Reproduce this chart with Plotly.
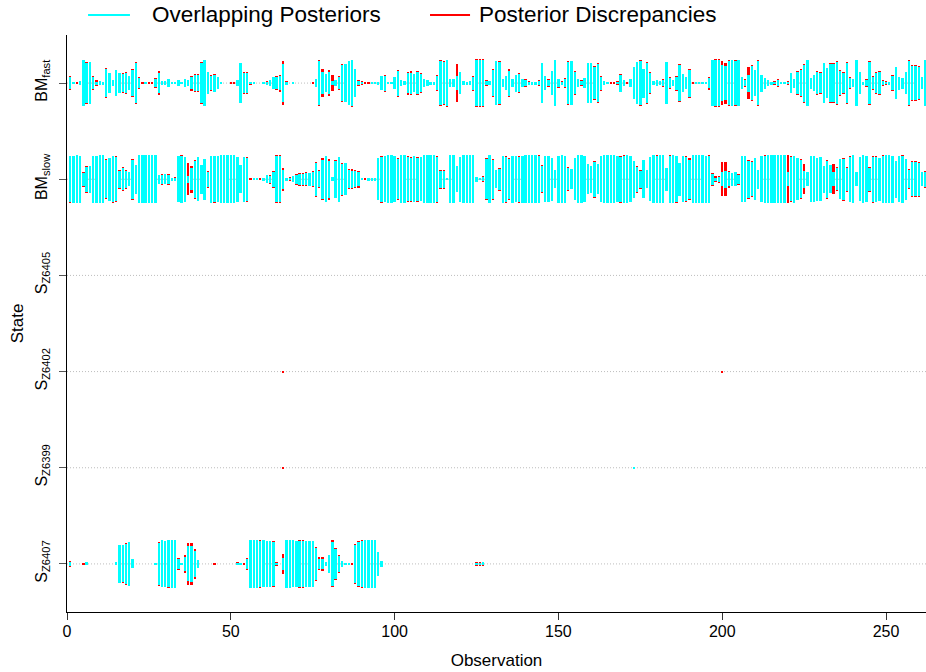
import plotly.graph_objects as go

N_OBS = 262
observations = list(range(1, N_OBS + 1))

# y-axis states, bottom to top
state_labels = ["S<sub>Z6407</sub>", "S<sub>Z6399</sub>", "S<sub>Z6402</sub>",
                "S<sub>Z6405</sub>", "BM<sub>slow</sub>", "BM<sub>fast</sub>"]
state_levels = [1, 2, 3, 4, 5, 6]

# posterior where both runs agree (overlap) and the extra mass of the larger one
bm_fast_overlap = [
    0.25, 0.02, 0.00, 0.10, 0.95, 0.84, 0.86, 0.26, 0.04, 0.08,
    0.06, 0.57, 0.43, 0.12, 0.53, 0.43, 0.38, 0.42, 0.28, 0.54,
    0.82, 0.21, 0.00, 0.02, 0.00, 0.00, 0.16, 0.40, 0.08, 0.08,
    0.15, 0.03, 0.03, 0.14, 0.03, 0.18, 0.12, 0.24, 0.32, 0.33,
    0.83, 0.94, 0.47, 0.30, 0.35, 0.26, 0.03, 0.00, 0.00, 0.00,
    0.00, 0.12, 0.82, 0.42, 0.40, 0.03, 0.02, 0.00, 0.00, 0.03,
    0.06, 0.14, 0.25, 0.24, 0.30, 0.78, 0.04, 0.00, 0.02, 0.00,
    0.00, 0.00, 0.00, 0.00, 0.00, 0.15, 0.93, 0.45, 0.38, 0.45,
    0.10, 0.12, 0.24, 0.75, 0.78, 0.93, 0.95, 0.58, 0.10, 0.05,
    0.00, 0.00, 0.02, 0.02, 0.06, 0.28, 0.31, 0.02, 0.02, 0.26,
    0.52, 0.14, 0.08, 0.42, 0.44, 0.37, 0.46, 0.38, 0.17, 0.12,
    0.04, 0.04, 0.28, 0.92, 0.88, 0.95, 0.16, 0.16, 0.30, 0.45,
    0.08, 0.04, 0.08, 0.27, 0.96, 0.96, 0.96, 0.08, 0.07, 0.54,
    0.92, 0.88, 0.18, 0.30, 0.52, 0.15, 0.35, 0.36, 0.18, 0.12,
    0.06, 0.06, 0.04, 0.08, 0.82, 0.29, 0.14, 0.50, 0.94, 0.15,
    0.06, 0.17, 0.88, 0.92, 0.45, 0.17, 0.10, 0.21, 0.82, 0.82,
    0.68, 0.78, 0.27, 0.10, 0.03, 0.00, 0.00, 0.03, 0.35, 0.12,
    0.00, 0.16, 0.68, 0.87, 0.92, 0.60, 0.82, 0.41, 0.07, 0.12,
    0.07, 0.14, 0.88, 0.20, 0.12, 0.27, 0.76, 0.37, 0.26, 0.56,
    0.00, 0.02, 0.02, 0.02, 0.03, 0.22, 0.97, 0.96, 0.96, 0.75,
    0.72, 0.93, 0.96, 0.93, 0.97, 0.26, 0.12, 0.35, 0.72, 0.53,
    0.91, 0.35, 0.23, 0.12, 0.06, 0.05, 0.11, 0.03, 0.02, 0.05,
    0.40, 0.19, 0.46, 0.55, 0.77, 0.97, 0.23, 0.33, 0.47, 0.41,
    0.82, 0.63, 0.79, 0.78, 0.88, 0.51, 0.41, 0.84, 0.22, 0.16,
    0.97, 0.45, 0.04, 0.13, 0.86, 0.24, 0.40, 0.46, 0.08, 0.05,
    0.06, 0.29, 0.68, 0.27, 0.23, 0.45, 0.92, 0.70, 0.70, 0.66,
    0.24, 0.97,
]
bm_fast_disc = [
    0.05, 0, 0.03, 0, 0, 0.04, 0, 0.04, 0.10, 0,
    0, 0.04, 0, 0, 0, 0, 0.05, 0.04, 0, 0.05,
    0.04, 0.04, 0.03, 0, 0.03, 0.03, 0.05, 0.10, 0, 0,
    0, 0, 0, 0, 0, 0, 0, 0.07, 0.05, 0.05,
    0.04, 0, 0, 0.04, 0.04, 0, 0, 0, 0, 0.02,
    0.02, 0, 0, 0.05, 0.06, 0.03, 0, 0, 0, 0,
    0.02, 0, 0, 0.05, 0.05, 0.12, 0.05, 0, 0, 0,
    0, 0, 0, 0, 0.02, 0, 0.04, 0.13, 0, 0.09,
    0.23, 0, 0.04, 0.04, 0, 0, 0.03, 0, 0.04, 0.05,
    0.02, 0.02, 0, 0.03, 0, 0, 0.04, 0, 0, 0,
    0.04, 0, 0, 0.06, 0.05, 0, 0.04, 0.04, 0, 0,
    0, 0, 0.05, 0.05, 0.04, 0.03, 0, 0, 0.50, 0,
    0, 0, 0, 0.04, 0.03, 0.03, 0.03, 0.06, 0, 0.04,
    0, 0.04, 0, 0, 0.06, 0, 0, 0.04, 0, 0.04,
    0.04, 0, 0, 0.04, 0, 0, 0.04, 0, 0, 0.04,
    0.04, 0.04, 0.04, 0, 0.06, 0, 0.04, 0, 0, 0,
    0.04, 0.04, 0.04, 0, 0, 0.03, 0.03, 0.04, 0.04, 0,
    0.03, 0, 0, 0, 0.04, 0, 0.04, 0.04, 0, 0,
    0, 0.04, 0, 0.04, 0, 0.04, 0.04, 0, 0, 0.04,
    0.03, 0, 0, 0, 0, 0.05, 0, 0.03, 0.03, 0.15,
    0.13, 0.03, 0, 0.03, 0, 0, 0.04, 0.33, 0.04, 0,
    0.04, 0, 0, 0, 0, 0.03, 0.04, 0, 0, 0.03,
    0, 0, 0.04, 0.04, 0.04, 0, 0, 0, 0.04, 0.04,
    0, 0, 0.04, 0.04, 0.04, 0.04, 0.04, 0.04, 0.04, 0,
    0, 0, 0, 0.04, 0.04, 0.04, 0.06, 0.04, 0.04, 0.03,
    0, 0.04, 0, 0, 0, 0, 0.04, 0.04, 0.04, 0.06,
    0, 0,
]

bm_slow_overlap = [
    0.95, 0.98, 1.00, 0.98, 0.28, 0.52, 0.56, 0.97, 0.98, 1.00,
    1.00, 0.80, 0.90, 0.95, 0.92, 0.36, 0.45, 0.36, 0.30, 0.82,
    0.60, 1.00, 1.00, 1.00, 1.00, 1.00, 1.00, 0.18, 0.19, 0.20,
    0.19, 0.04, 0.06, 0.96, 0.98, 0.94, 0.15, 0.45, 0.78, 0.92,
    0.60, 0.85, 0.31, 0.97, 0.95, 0.96, 1.00, 1.00, 1.00, 0.99,
    0.99, 0.93, 0.58, 0.93, 0.90, 0.00, 0.03, 0.02, 0.00, 0.06,
    0.17, 0.15, 0.31, 0.96, 0.96, 0.40, 0.06, 0.05, 0.13, 0.18,
    0.22, 0.22, 0.25, 0.27, 0.30, 0.68, 0.33, 0.82, 0.95, 0.78,
    0.08, 0.76, 0.93, 0.64, 0.66, 0.38, 0.36, 0.33, 0.30, 0.05,
    0.00, 0.04, 0.04, 0.06, 0.88, 0.94, 0.96, 1.00, 1.00, 0.96,
    0.84, 0.99, 1.00, 0.91, 0.89, 0.96, 0.90, 0.91, 0.99, 1.00,
    1.00, 0.99, 0.94, 0.36, 0.36, 0.02, 0.99, 0.99, 0.55, 0.93,
    1.00, 1.00, 1.00, 1.00, 0.10, 0.05, 0.08, 0.84, 0.99, 0.82,
    0.38, 0.43, 0.98, 0.94, 0.84, 0.98, 0.95, 0.93, 0.98, 0.99,
    1.00, 1.00, 1.00, 0.97, 0.55, 0.96, 0.96, 0.90, 0.38, 0.98,
    1.00, 0.98, 0.45, 0.41, 0.88, 0.99, 1.00, 0.96, 0.62, 0.56,
    0.73, 0.62, 0.96, 1.00, 1.00, 1.00, 1.00, 0.96, 0.94, 0.98,
    1.00, 0.96, 0.76, 0.53, 0.36, 0.80, 0.38, 0.92, 0.99, 0.98,
    1.00, 0.99, 0.47, 0.97, 1.00, 0.95, 0.68, 0.96, 0.91, 0.82,
    0.99, 1.00, 1.00, 1.00, 0.98, 0.97, 0.23, 0.07, 0.10, 0.30,
    0.35, 0.30, 0.27, 0.30, 0.18, 0.96, 0.95, 0.76, 0.70, 0.87,
    0.40, 0.95, 0.97, 1.00, 1.00, 0.99, 1.00, 1.00, 1.00, 0.30,
    0.91, 0.97, 0.88, 0.80, 0.35, 0.29, 0.96, 0.96, 0.89, 0.92,
    0.57, 0.77, 0.58, 0.30, 0.45, 0.84, 0.86, 0.48, 0.93, 0.99,
    0.30, 0.91, 1.00, 0.96, 0.47, 0.94, 0.93, 0.89, 0.98, 1.00,
    1.00, 0.97, 0.77, 0.96, 0.97, 0.86, 0.38, 0.70, 0.70, 0.68,
    0.30, 0.31,
]
bm_slow_disc = [
    0.03, 0, 0, 0, 0.04, 0.04, 0, 0, 0, 0,
    0, 0.04, 0, 0.03, 0.04, 0.04, 0.04, 0.04, 0, 0.04,
    0, 0, 0, 0, 0, 0, 0, 0, 0.03, 0,
    0.04, 0, 0.03, 0, 0.02, 0, 0.51, 0.12, 0.04, 0,
    0, 0, 0.04, 0, 0.03, 0, 0, 0, 0, 0,
    0, 0, 0, 0, 0.04, 0.03, 0, 0, 0.03, 0,
    0, 0.04, 0.04, 0.03, 0.03, 0.08, 0, 0.03, 0, 0.04,
    0.04, 0.04, 0.04, 0, 0.04, 0.04, 0.04, 0.06, 0, 0.08,
    0, 0.04, 0, 0.04, 0, 0.04, 0.05, 0.04, 0.06, 0,
    0.03, 0, 0, 0, 0, 0.03, 0, 0, 0, 0,
    0.04, 0, 0, 0.04, 0.04, 0, 0.04, 0, 0, 0,
    0, 0, 0.03, 0.04, 0.04, 0, 0, 0, 0, 0,
    0, 0, 0, 0, 0, 0, 0.04, 0.04, 0, 0.04,
    0, 0.05, 0, 0.03, 0.04, 0, 0, 0.04, 0, 0,
    0, 0, 0, 0.03, 0.04, 0, 0, 0, 0, 0,
    0, 0, 0.04, 0, 0, 0, 0, 0, 0, 0,
    0.04, 0, 0, 0, 0, 0, 0, 0, 0.04, 0.02,
    0, 0, 0, 0.04, 0.04, 0, 0, 0, 0, 0.02,
    0, 0, 0, 0.03, 0, 0.03, 0, 0, 0.04, 0.05,
    0, 0, 0, 0, 0, 0.03, 0.04, 0.05, 0.05, 0.40,
    0.35, 0.05, 0, 0, 0.04, 0, 0, 0.06, 0.04, 0,
    0, 0, 0.03, 0, 0, 0, 0, 0, 0, 0.69,
    0.04, 0, 0, 0.04, 0.28, 0, 0, 0, 0, 0,
    0, 0.04, 0, 0.33, 0.04, 0, 0.04, 0.04, 0.03, 0,
    0, 0, 0, 0, 0.04, 0.04, 0.03, 0, 0.02, 0,
    0, 0, 0, 0, 0.03, 0, 0.04, 0.05, 0.05, 0.04,
    0, 0.04,
]

s_z6407_overlap = [
    0.08, 0.00, 0.00, 0.00, 0.00, 0.06, 0.00, 0.00, 0.00, 0.00,
    0.00, 0.00, 0.00, 0.00, 0.06, 0.79, 0.77, 0.84, 0.90, 0.19,
    0.00, 0.00, 0.00, 0.00, 0.00, 0.00, 0.02, 0.86, 0.98, 0.97,
    0.98, 1.00, 1.00, 0.22, 0.02, 0.30, 0.73, 0.75, 0.55, 0.18,
    0.00, 0.00, 0.00, 0.00, 0.00, 0.00, 0.00, 0.00, 0.00, 0.00,
    0.00, 0.04, 0.03, 0.00, 0.20, 1.00, 1.00, 1.00, 0.97, 0.98,
    0.97, 0.97, 0.90, 0.04, 0.00, 0.25, 1.00, 1.00, 0.98, 0.97,
    0.96, 0.96, 0.96, 0.94, 0.94, 0.68, 0.20, 0.22, 0.08, 0.36,
    0.93, 0.62, 0.33, 0.14, 0.03, 0.02, 0.00, 0.78, 0.92, 0.97,
    1.00, 1.00, 1.00, 1.00, 0.50, 0.13, 0.00, 0.00, 0.00, 0.00,
    0.00, 0.00, 0.00, 0.00, 0.00, 0.00, 0.00, 0.00, 0.00, 0.00,
    0.00, 0.00, 0.00, 0.00, 0.00, 0.00, 0.00, 0.00, 0.00, 0.00,
    0.00, 0.00, 0.00, 0.00, 0.05, 0.05, 0.06, 0.00, 0.00, 0.00,
    0.00, 0.00, 0.00, 0.00, 0.00, 0.00, 0.00, 0.00, 0.00, 0.00,
    0.00, 0.00, 0.00, 0.00, 0.00, 0.00, 0.00, 0.00, 0.00, 0.00,
    0.00, 0.00, 0.00, 0.00, 0.00, 0.00, 0.00, 0.00, 0.00, 0.00,
    0.00, 0.00, 0.00, 0.00, 0.00, 0.00, 0.00, 0.00, 0.00, 0.00,
    0.00, 0.00, 0.00, 0.00, 0.00, 0.00, 0.00, 0.00, 0.00, 0.00,
    0.00, 0.00, 0.00, 0.00, 0.00, 0.00, 0.00, 0.00, 0.00, 0.00,
    0.00, 0.00, 0.00, 0.00, 0.00, 0.00, 0.00, 0.00, 0.00, 0.00,
    0.00, 0.00, 0.00, 0.00, 0.00, 0.00, 0.00, 0.00, 0.00, 0.00,
    0.00, 0.00, 0.00, 0.00, 0.00, 0.00, 0.00, 0.00, 0.00, 0.00,
    0.00, 0.00, 0.00, 0.00, 0.00, 0.00, 0.00, 0.00, 0.00, 0.00,
    0.00, 0.00, 0.00, 0.00, 0.00, 0.00, 0.00, 0.00, 0.00, 0.00,
    0.00, 0.00, 0.00, 0.00, 0.00, 0.00, 0.00, 0.00, 0.00, 0.00,
    0.00, 0.00, 0.00, 0.00, 0.00, 0.00, 0.00, 0.00, 0.00, 0.00,
    0.00, 0.00,
]
s_z6407_disc = [
    0.03, 0, 0, 0, 0.02, 0, 0, 0, 0, 0,
    0, 0, 0, 0, 0, 0, 0.03, 0.05, 0, 0,
    0, 0, 0, 0, 0, 0, 0.03, 0.05, 0, 0,
    0.02, 0, 0, 0.04, 0, 0.06, 0.13, 0.13, 0.06, 0,
    0, 0, 0, 0, 0.02, 0, 0, 0, 0, 0,
    0, 0.02, 0, 0.02, 0.04, 0, 0, 0, 0.03, 0,
    0, 0, 0.04, 0.04, 0, 0.15, 0, 0, 0, 0,
    0.03, 0.03, 0, 0.03, 0.03, 0.04, 0.07, 0.06, 0, 0,
    0.05, 0.06, 0.04, 0, 0, 0, 0.04, 0.05, 0.04, 0.03,
    0, 0, 0, 0, 0, 0, 0, 0, 0, 0,
    0, 0, 0, 0, 0, 0, 0, 0, 0, 0,
    0, 0, 0, 0, 0, 0, 0, 0, 0, 0,
    0, 0, 0, 0, 0.02, 0.03, 0.03, 0, 0, 0,
    0, 0, 0, 0, 0, 0, 0, 0, 0, 0,
    0, 0, 0, 0, 0, 0, 0, 0, 0, 0,
    0, 0, 0, 0, 0, 0, 0, 0, 0, 0,
    0, 0, 0, 0, 0, 0, 0, 0, 0, 0,
    0, 0, 0, 0, 0, 0, 0, 0, 0, 0,
    0, 0, 0, 0, 0, 0, 0, 0, 0, 0,
    0, 0, 0, 0, 0, 0, 0, 0, 0, 0,
    0, 0, 0, 0, 0, 0, 0, 0, 0, 0,
    0, 0, 0, 0, 0, 0, 0, 0, 0, 0,
    0, 0, 0, 0, 0, 0, 0, 0, 0, 0,
    0, 0, 0, 0, 0, 0, 0, 0, 0, 0,
    0, 0, 0, 0, 0, 0, 0, 0, 0, 0,
    0, 0, 0, 0, 0, 0, 0, 0, 0, 0,
    0, 0,
]

# the remaining states carry almost no mass: observation -> (overlap, discrepancy)
s_z6405_marks = {}
s_z6402_marks = {66: (0.0, 0.03), 200: (0.0, 0.03)}
s_z6399_marks = {66: (0.0, 0.03), 173: (0.02, 0.0)}


def from_marks(marks):
    overlap = [marks.get(o, (0.0, 0.0))[0] for o in observations]
    disc = [marks.get(o, (0.0, 0.0))[1] for o in observations]
    return overlap, disc


rows = [
    (1, s_z6407_overlap, s_z6407_disc),
    (2, *from_marks(s_z6399_marks)),
    (3, *from_marks(s_z6402_marks)),
    (4, *from_marks(s_z6405_marks)),
    (5, bm_slow_overlap, bm_slow_disc),
    (6, bm_fast_overlap, bm_fast_disc),
]

HALF_SPAN = 0.25  # half bar length, in state units, for a posterior of 1
BAR_WIDTH = 0.72  # in observations


def centred_bars(level, values):
    """Bars of length 2*HALF_SPAN*v centred on a state's level."""
    xs, heights, bases = [], [], []
    for obs, v in zip(observations, values):
        if v <= 0:
            continue
        xs.append(obs)
        heights.append(2 * HALF_SPAN * v)
        bases.append(level - HALF_SPAN * v)
    return xs, heights, bases


cyan_x, cyan_h, cyan_b = [], [], []
red_x, red_h, red_b = [], [], []
for level, overlap, disc in rows:
    total = [o + d if d > 0 else 0.0 for o, d in zip(overlap, disc)]
    x, h, b = centred_bars(level, total)
    red_x += x; red_h += h; red_b += b
    x, h, b = centred_bars(level, overlap)
    cyan_x += x; cyan_h += h; cyan_b += b

CYAN = "#00ffff"
RED = "#ff0000"

fig = go.Figure()
fig.add_trace(go.Bar(
    x=red_x, y=red_h, base=red_b, width=BAR_WIDTH, name="Posterior Discrepancies",
    marker=dict(color=RED, line=dict(width=0)), showlegend=False, hoverinfo="skip",
))
fig.add_trace(go.Bar(
    x=cyan_x, y=cyan_h, base=cyan_b, width=BAR_WIDTH, name="Overlapping Posteriors",
    marker=dict(color=CYAN, line=dict(width=0)), showlegend=False, hoverinfo="skip",
))

# dotted reference line through every state
for level in state_levels:
    fig.add_shape(type="line", xref="paper", x0=0, x1=1, yref="y", y0=level, y1=level,
                  line=dict(color="#bdbdbd", width=1, dash="1px,2px"), layer="below")

FONT = "Liberation Sans, Arial, Helvetica, sans-serif"

# legend: line samples and labels above the plotting region
legend_items = [("Overlapping Posteriors", CYAN, 0.0245, 0.0733, 0.0966),
                ("Posterior Discrepancies", RED, 0.4226, 0.4692, 0.4773)]
LEGEND_Y = 1.0347
for label, color, lx0, lx1, tx in legend_items:
    fig.add_shape(type="line", xref="paper", yref="paper", x0=lx0, x1=lx1,
                  y0=LEGEND_Y, y1=LEGEND_Y, line=dict(color=color, width=2))
    fig.add_annotation(text=label, xref="paper", yref="paper", x=tx, y=LEGEND_Y,
                       xanchor="left", yanchor="middle", showarrow=False,
                       font=dict(size=22.5, family=FONT, color="black"))

fig.update_layout(
    width=926, height=672,
    margin=dict(l=67, r=0, t=35, b=60, autoexpand=False),
    plot_bgcolor="white", paper_bgcolor="white",
    font=dict(family=FONT, size=16, color="black"),
    barmode="overlay", bargap=0,
    showlegend=False,
)
fig.update_xaxes(
    range=[0, 262.2], showline=True, linecolor="black", linewidth=1.2,
    ticks="outside", ticklen=7, tickcolor="#333333", tickwidth=1.2,
    tickvals=[0, 50, 100, 150, 200, 250], showgrid=False, zeroline=False,
    tickfont=dict(size=16), ticklabelstandoff=-2,
    title=dict(text="Observation", font=dict(size=17), standoff=14),
)
fig.update_yaxes(
    range=[0.5, 6.5], showline=True, linecolor="black", linewidth=1.2,
    ticks="outside", ticklen=7, tickcolor="#555555", tickwidth=1.2,
    tickvals=state_levels, ticktext=state_labels, tickangle=-90,
    showgrid=False, zeroline=False, tickfont=dict(size=16), ticklabelstandoff=6,
    title=dict(text="State", font=dict(size=17), standoff=4),
)

fig.write_html("out.html")
